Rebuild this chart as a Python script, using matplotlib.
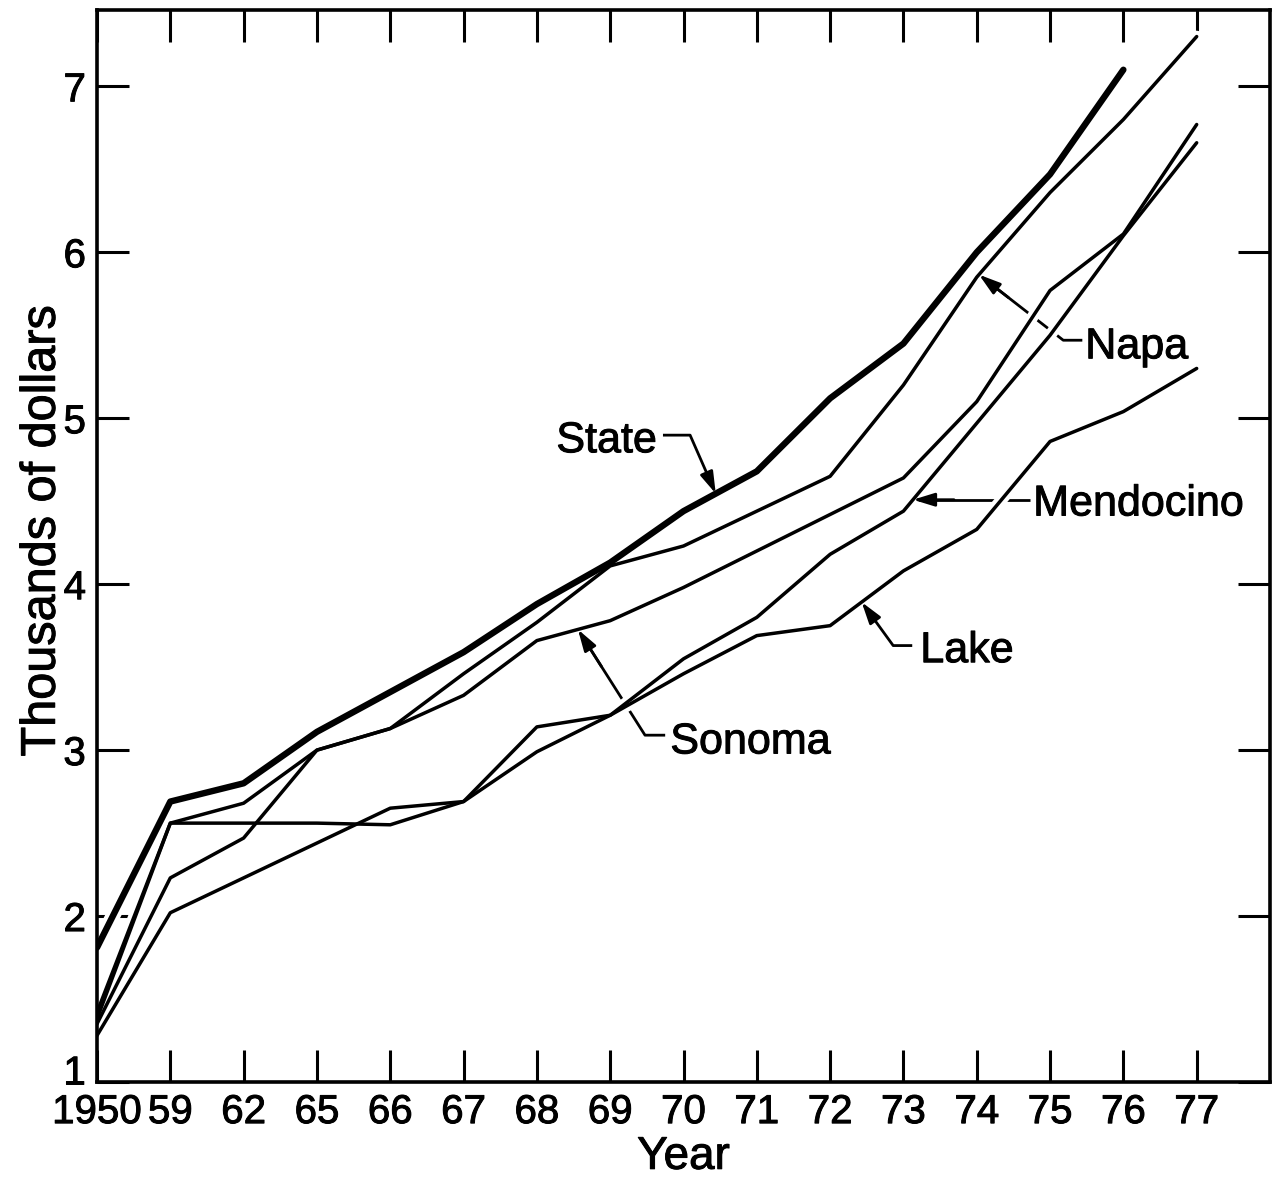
import numpy as np
import matplotlib
matplotlib.use("Agg")
import matplotlib.pyplot as plt
import matplotlib.patheffects as pe
from matplotlib.transforms import ScaledTranslation

# ---------------- data (thousands of dollars) ----------------
years = ['1950', '59', '62', '65', '66', '67', '68', '69', '70', '71',
         '72', '73', '74', '75', '76', '77']
state = [1.81, 2.69, 2.80, 3.11, 3.35, 3.59, 3.88, 4.13, 4.44, 4.68,
         5.12, 5.45, 6.00, 6.47, 7.10, np.nan]
napa = [1.42, 2.56, 2.68, 3.00, 3.13, 3.46, 3.77, 4.11, 4.23, 4.44,
        4.65, 5.20, 5.85, 6.36, 6.80, 7.30]
sonoma = [1.35, 2.23, 2.47, 3.00, 3.13, 3.33, 3.66, 3.78, 3.98, 4.20,
          4.42, 4.64, 5.10, 5.77, 6.11, 6.77]
mendocino = [1.38, 2.56, 2.56, 2.56, 2.55, 2.69, 3.14, 3.21, 3.55, 3.80,
             4.18, 4.44, 4.97, 5.50, 6.10, 6.66]
lake = [1.28, 2.02, 2.23, 2.44, 2.65, 2.69, 2.99, 3.21, 3.46, 3.69,
        3.75, 4.08, 4.33, 4.86, 5.04, 5.30]
y_ticks = [1, 2, 3, 4, 5, 6, 7]

plt.rcParams['font.family'] = ['Liberation Sans', 'DejaVu Sans']

fig = plt.figure(figsize=(12.77, 11.79), dpi=100)
ax = fig.add_axes([97 / 1277, 1 - 1082 / 1179, 1173 / 1277, 1072 / 1179])

x = np.arange(len(years))
series = [(state, 4.6), (napa, 2.5), (sonoma, 2.5), (mendocino, 2.5), (lake, 2.5)]

# white halos (make leader lines break where they cross the curves)
for vals, lw in series:
    ax.plot(x, vals, color='white', lw=lw + 6, zorder=1.8,
            solid_capstyle='round', solid_joinstyle='round')
for vals, lw in series:
    ax.plot(x, vals, color='black', lw=lw, zorder=3,
            solid_capstyle='round', solid_joinstyle='round')

heavy = [pe.withStroke(linewidth=0.7, foreground='black')]

ax.set_xlim(0, 16)
ax.set_ylim(1, 7.46)
ax.set_xticks(x)
ax.set_xticklabels(years)
ax.set_yticks(y_ticks)
ax.set_yticklabels([str(v) for v in y_ticks])
ax.tick_params(direction='in', length=23, width=2.2, top=True, right=True,
               labelsize=29, pad=8, color='black')
for s in ax.spines.values():
    s.set_linewidth(2.6)
for lab in ax.get_xticklabels() + ax.get_yticklabels():
    lab.set_path_effects(heavy)
# lift the "1" so it clears "1950"
ylab1 = ax.get_yticklabels()[0]
ylab1.set_transform(ylab1.get_transform() +
                    ScaledTranslation(0, 9 / 72, fig.dpi_scale_trans))

ax.set_xlabel('Year', fontsize=33, path_effects=heavy)
ax.xaxis.label.set_va('baseline')
ax.xaxis.set_label_coords(0.5, -0.081)
ax.set_ylabel('Thousands of dollars', fontsize=35, path_effects=heavy)
ax.yaxis.label.set_va('baseline')
ax.yaxis.set_label_coords(-0.036, 0.514)


def interp(vals, xp):
    v = np.array(vals, dtype=float)
    m = ~np.isnan(v)
    return float(np.interp(xp, x[m], v[m]))


def leader(label, text_xy, ha, path_pts, tip_x, vals):
    tip = (tip_x, interp(vals, tip_x))
    pts = list(path_pts) + [tip]
    xs = [p[0] for p in pts]
    ys = [p[1] for p in pts]
    ax.plot(xs, ys, color='black', lw=2.0, zorder=1.6, solid_capstyle='butt')
    cx, cy = pts[-2]
    mid = (tip[0] + 0.35 * (cx - tip[0]), tip[1] + 0.35 * (cy - tip[1]))
    ax.annotate('', xy=tip, xytext=mid, zorder=4,
                arrowprops=dict(arrowstyle='-|>,head_length=1.3,head_width=0.4',
                                mutation_scale=10, lw=2.0, color='black',
                                shrinkA=0, shrinkB=0))
    ax.text(text_xy[0], text_xy[1], label, fontsize=31, ha=ha, va='baseline',
            zorder=5, path_effects=heavy)


leader('State', (7.64, 4.795), 'right', [(7.72, 4.898), (8.09, 4.898)], 8.44, state)
leader('Napa', (13.48, 5.361), 'left', [(13.44, 5.47), (13.18, 5.47)], 12.03, napa)
leader('Sonoma', (7.82, 2.98), 'left', [(7.75, 3.09), (7.475, 3.09)], 6.56, sonoma)
mend_y = interp(mendocino, 11.13)
leader('Mendocino', (12.77, mend_y - 0.095), 'left', [(12.73, mend_y)], 11.13, mendocino)
leader('Lake', (11.23, 3.53), 'left', [(11.12, 3.63), (10.86, 3.63)], 10.43, lake)

fig.savefig('out.png', dpi=100)
